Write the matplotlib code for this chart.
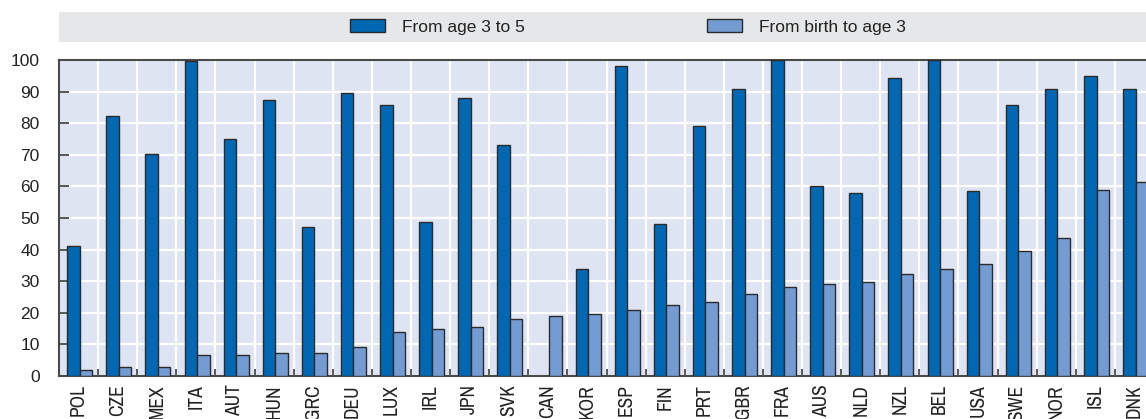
import numpy as np
import matplotlib
matplotlib.use("Agg")
import matplotlib.pyplot as plt
from matplotlib.patches import Rectangle, Patch
from matplotlib import font_manager

countries = ["POL", "CZE", "MEX", "ITA", "AUT", "HUN", "GRC", "DEU", "LUX", "IRL",
             "JPN", "SVK", "CAN", "KOR", "ESP", "FIN", "PRT", "GBR", "FRA", "AUS",
             "NLD", "NZL", "BEL", "USA", "SWE", "NOR", "ISL", "DNK"]
age3to5 = [41, 82.3, 70.3, 99.7, 75, 87.3, 47.2, 89.6, 85.8, 48.7,
           88, 73.1, np.nan, 33.9, 98.1, 48.1, 79.1, 90.8, 100, 60.1,
           57.9, 94.3, 100, 58.5, 85.8, 90.8, 94.9, 90.8]
birthto3 = [1.9, 2.8, 2.8, 6.6, 6.6, 7.3, 7.3, 9.2, 13.9, 14.9,
            15.5, 18, 19, 19.6, 20.9, 22.5, 23.4, 25.9, 28.2, 29.1,
            29.7, 32.3, 33.9, 35.4, 39.6, 43.7, 58.9, 61.4]
series_names = ["From age 3 to 5", "From birth to age 3"]
yticks = [0, 10, 20, 30, 40, 50, 60, 70, 80, 90, 100]

# look for a narrow font for the country labels
narrow = None
for f in font_manager.fontManager.ttflist:
    nm = f.name
    if ("Narrow" in nm or "Condensed" in nm) and f.style == "normal" and f.weight in (400, "normal", "regular"):
        narrow = nm
        break
if narrow is None:
    for f in font_manager.fontManager.ttflist:
        if f.stretch in ("condensed", "semi-condensed", 500 - 100, 300) and f.style == "normal":
            narrow = f.name
            break

W, H = 1146, 419
fig = plt.figure(figsize=(W / 100, H / 100), dpi=100)

dark = "#0067b3"
light = "#759bd3"
edge = "#2b2b2b"
spine_c = "#4a4a4a"

ax = fig.add_axes([59 / W, 43 / H, 1095 / W, 316 / H])
ax.set_facecolor("#dfe4f2")
n = len(countries)
x = np.arange(n)
bw = 0.32
ax.bar(x - bw / 2 + 0.03, age3to5, width=bw, color=dark, edgecolor=edge, linewidth=1.0, zorder=3)
ax.bar(x + bw / 2 + 0.03, birthto3, width=bw, color=light, edgecolor=edge, linewidth=1.0, zorder=3)

ax.set_xlim(-0.5, n - 0.5)
ax.set_ylim(0, 100)
ax.set_yticks(yticks)
ax.set_xticks(x)
if narrow is not None:
    ax.set_xticklabels(countries, rotation=90, family=[narrow, "Liberation Sans"],
                       fontsize=14, color="#222222")
else:
    ax.set_xticklabels(countries, rotation=90, family=["Liberation Sans"],
                       fontsize=11.5, color="#222222")
ax.set_xticks(np.arange(n + 1) - 0.5, minor=True)
ax.tick_params(axis="x", which="major", length=0, pad=6)
ax.tick_params(axis="x", which="minor", direction="in", length=5, width=1.3, color=spine_c)
ax.tick_params(axis="y", direction="in", length=7, width=1.3, color=spine_c, labelsize=12.5,
               labelcolor="#222222", pad=14)
for lab in ax.get_yticklabels():
    lab.set_family("Liberation Sans")
ax.grid(axis="y", which="major", color="white", linewidth=1.6, zorder=1)
ax.grid(axis="x", which="minor", color="white", linewidth=1.6, zorder=1)
ax.set_axisbelow(True)
for s in ["left", "bottom", "top"]:
    ax.spines[s].set_color(spine_c)
    ax.spines[s].set_linewidth(1.5)
ax.spines["right"].set_visible(False)

# legend band
band = Rectangle((59 / W, (H - 42) / H), 1 - 59 / W + 0.01, 30 / H, transform=fig.transFigure,
                 facecolor="#e6e7e9", edgecolor="none", zorder=0)
fig.patches.append(band)
handles = [Patch(facecolor=dark, edgecolor=edge, linewidth=1.0),
           Patch(facecolor=light, edgecolor=edge, linewidth=1.0)]
fs = 12.5
fig.legend(handles, series_names, loc="center", bbox_to_anchor=(628 / W, (H - 27) / H),
           ncol=2, frameon=False, prop={"family": "Liberation Sans", "size": fs},
           handlelength=2.0, handleheight=0.75, handletextpad=1.0, columnspacing=10.5,
           labelcolor="#222222")

fig.savefig("out.png", dpi=100)
